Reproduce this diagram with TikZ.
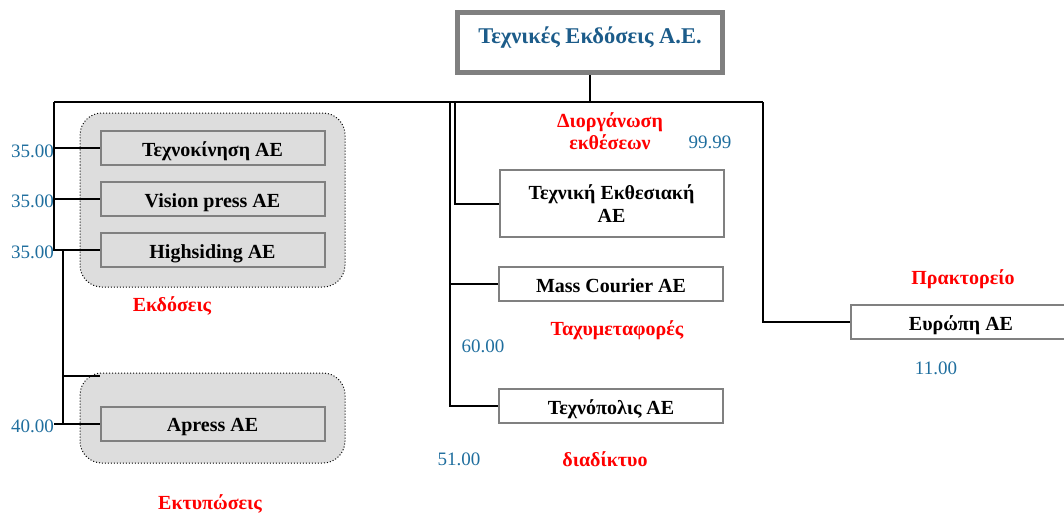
\documentclass[tikz,border=0pt]{standalone}
\usepackage{fontspec}
\setmainfont{Liberation Serif}
\newfontfamily\tnr{Liberation Serif}
\definecolor{nblue}{RGB}{31,110,158}
\definecolor{tblue}{RGB}{28,92,138}
\definecolor{bgray}{RGB}{128,128,128}
\definecolor{gfill}{RGB}{221,221,221}
\begin{document}
\begin{tikzpicture}[x=1pt,y=-1pt,
  conn/.style={line width=2pt, draw=black},
  cbox/.style={draw=bgray, line width=2pt, fill=white, minimum width=224, minimum height=34, inner sep=0pt, font=\tnr\fontsize{20}{23}\selectfont\bfseries, align=center},
  onel/.style={text height=18pt, text depth=2pt},
  gbox/.style={cbox, onel, fill=gfill},
  grp/.style={draw=black, dotted, line width=1pt, fill=gfill, rounded corners=22pt, minimum width=265, inner sep=0pt},
  num/.style={text=nblue, font=\tnr\fontsize{19}{22}\selectfont, inner sep=0pt},
  lab/.style={text=red, font=\tnr\fontsize{20}{22}\selectfont\bfseries, inner sep=0pt, align=center}
]
\useasboundingbox (0,0) rectangle (1064,515);

% group frames
\node[grp, minimum height=174] (g1) at (212.5,200) {};
\node[grp, minimum height=90] (g2) at (212.5,418) {};

% title
\node[draw=bgray, line width=5pt, minimum width=265, minimum height=60, inner sep=0pt,
      text height=16pt, text depth=15pt,
      font=\tnr\fontsize{22.5}{26}\selectfont\bfseries, text=tblue] (top) at (590,42.5)
      {Τεχνικές Εκδόσεις Α.Ε.};

% left boxes
\node[gbox] (tk) at (212.5,148) {Τεχνοκίνηση ΑΕ};
\node[gbox] (vp) at (212.5,199) {Vision press AE};
\node[gbox] (hs) at (212.5,250) {Highsiding AE};
\node[gbox] (ap) at (212.5,423.5) {Apress AE};

% middle boxes
\node[cbox, minimum height=67] (te) at (611.5,203.5) {Τεχνική Εκθεσιακή\\ΑΕ};
\node[cbox, onel] (mc) at (611,284) {Mass Courier AE};
\node[cbox, onel] (tp) at (611,406) {Τεχνόπολις ΑΕ};

% right box
\node[cbox, onel, minimum width=220] (eu) at (961,322) {Ευρώπη ΑΕ};

% connector coordinates
\coordinate (j0) at (590,102);
\coordinate (bl) at (54,102);
\coordinate (br) at (763,102);
\coordinate (m1) at (450,102);
\coordinate (m2) at (455,102);
\coordinate (l2) at (63,250);
\coordinate (l2b) at (63,423.5);
\coordinate (lf) at (100,376);

\draw[conn] (top.south) -- (j0);
\draw[conn] (bl) -- (br);
\draw[conn] (bl) |- (tk.west);
\draw[conn] (bl |- vp.west) -- (vp.west);
\draw[conn] (bl) |- (hs.west);
\draw[conn] (l2) -- (l2b);
\draw[conn] (l2 |- lf) -- (lf);
\draw[conn] (bl |- ap.west) -- (ap.west);
\draw[conn] (m2) |- (te.west);
\draw[conn] (m1) |- (tp.west);
\draw[conn] (m1 |- mc.west) -- (mc.west);
\draw[conn] (br) |- (eu.west);

% numbers
\node[num, anchor=east] (n1) at (54,151) {35.00};
\node[num, anchor=east] (n2) at (54,201) {35.00};
\node[num, anchor=east] (n3) at (54,252) {35.00};
\node[num, anchor=east] (n4) at (54,426) {40.00};
\node[num] (n5) at (710,142) {99.99};
\node[num] (n6) at (483,346) {60.00};
\node[num] (n7) at (459,459) {51.00};
\node[num] (n8) at (936,368) {11.00};

% red labels
\node[lab] (l1) at (172,306) {Εκδόσεις};
\node[lab] (l2t) at (210,504) {Εκτυπώσεις};
\node[lab] (l3) at (610,131) {Διοργάνωση\\εκθέσεων};
\node[lab] (l4) at (617,330) {Ταχυμεταφορές};
\node[lab] (l5) at (605,459) {διαδίκτυο};
\node[lab] (l6) at (963,279) {Πρακτορείο};
\end{tikzpicture}
\end{document}
